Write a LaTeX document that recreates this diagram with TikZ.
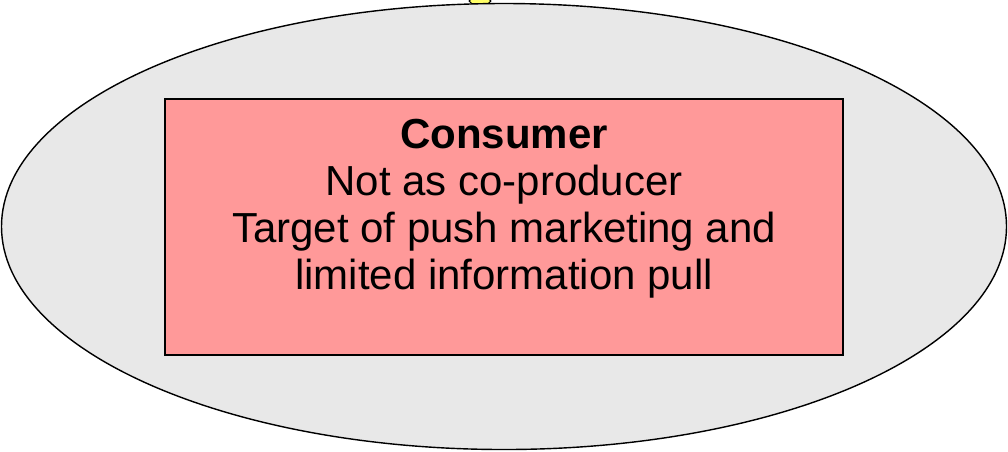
\documentclass[tikz,border=0pt]{standalone}
\usepackage{fontspec}
\setmainfont{Liberation Sans}
\usetikzlibrary{shapes.geometric}

\definecolor{ovalgray}{HTML}{E8E8E8}
\definecolor{boxpink}{HTML}{FF9999}
\definecolor{tipyellow}{HTML}{FFFF66}

\tikzset{
  outer/.style={ellipse, draw=black, fill=ovalgray, line width=0.8pt,
    minimum width=20.1cm, minimum height=8.92cm},
  consumerbox/.style={rectangle, draw=black, fill=boxpink, line width=0.8pt,
    minimum width=13.56cm, minimum height=5.12cm},
  boxtext/.style={align=center, inner sep=0pt,
    font=\fontsize{23.9}{26.8}\selectfont}
}

\begin{document}
\begin{tikzpicture}
    \useasboundingbox (0,0) rectangle (20.16,-9.02);

    % Connector tip from above
    \node[diamond, draw=black, fill=tipyellow, line width=0.6pt, inner sep=0pt,
      minimum size=0.44cm] (tip) at (9.6,-0.02) {};

    % Outer oval
    \node[outer] (market) at (10.08,-4.53) {};

    % Consumer box
    \node[consumerbox] (consumer) at (10.08,-4.54) {};
    \node[boxtext] (consumertext) at (10.08,-4.18)
      {\textbf{Consumer}\\Not as co-producer\\Target of push marketing and\\limited information pull};
\end{tikzpicture}
\end{document}
